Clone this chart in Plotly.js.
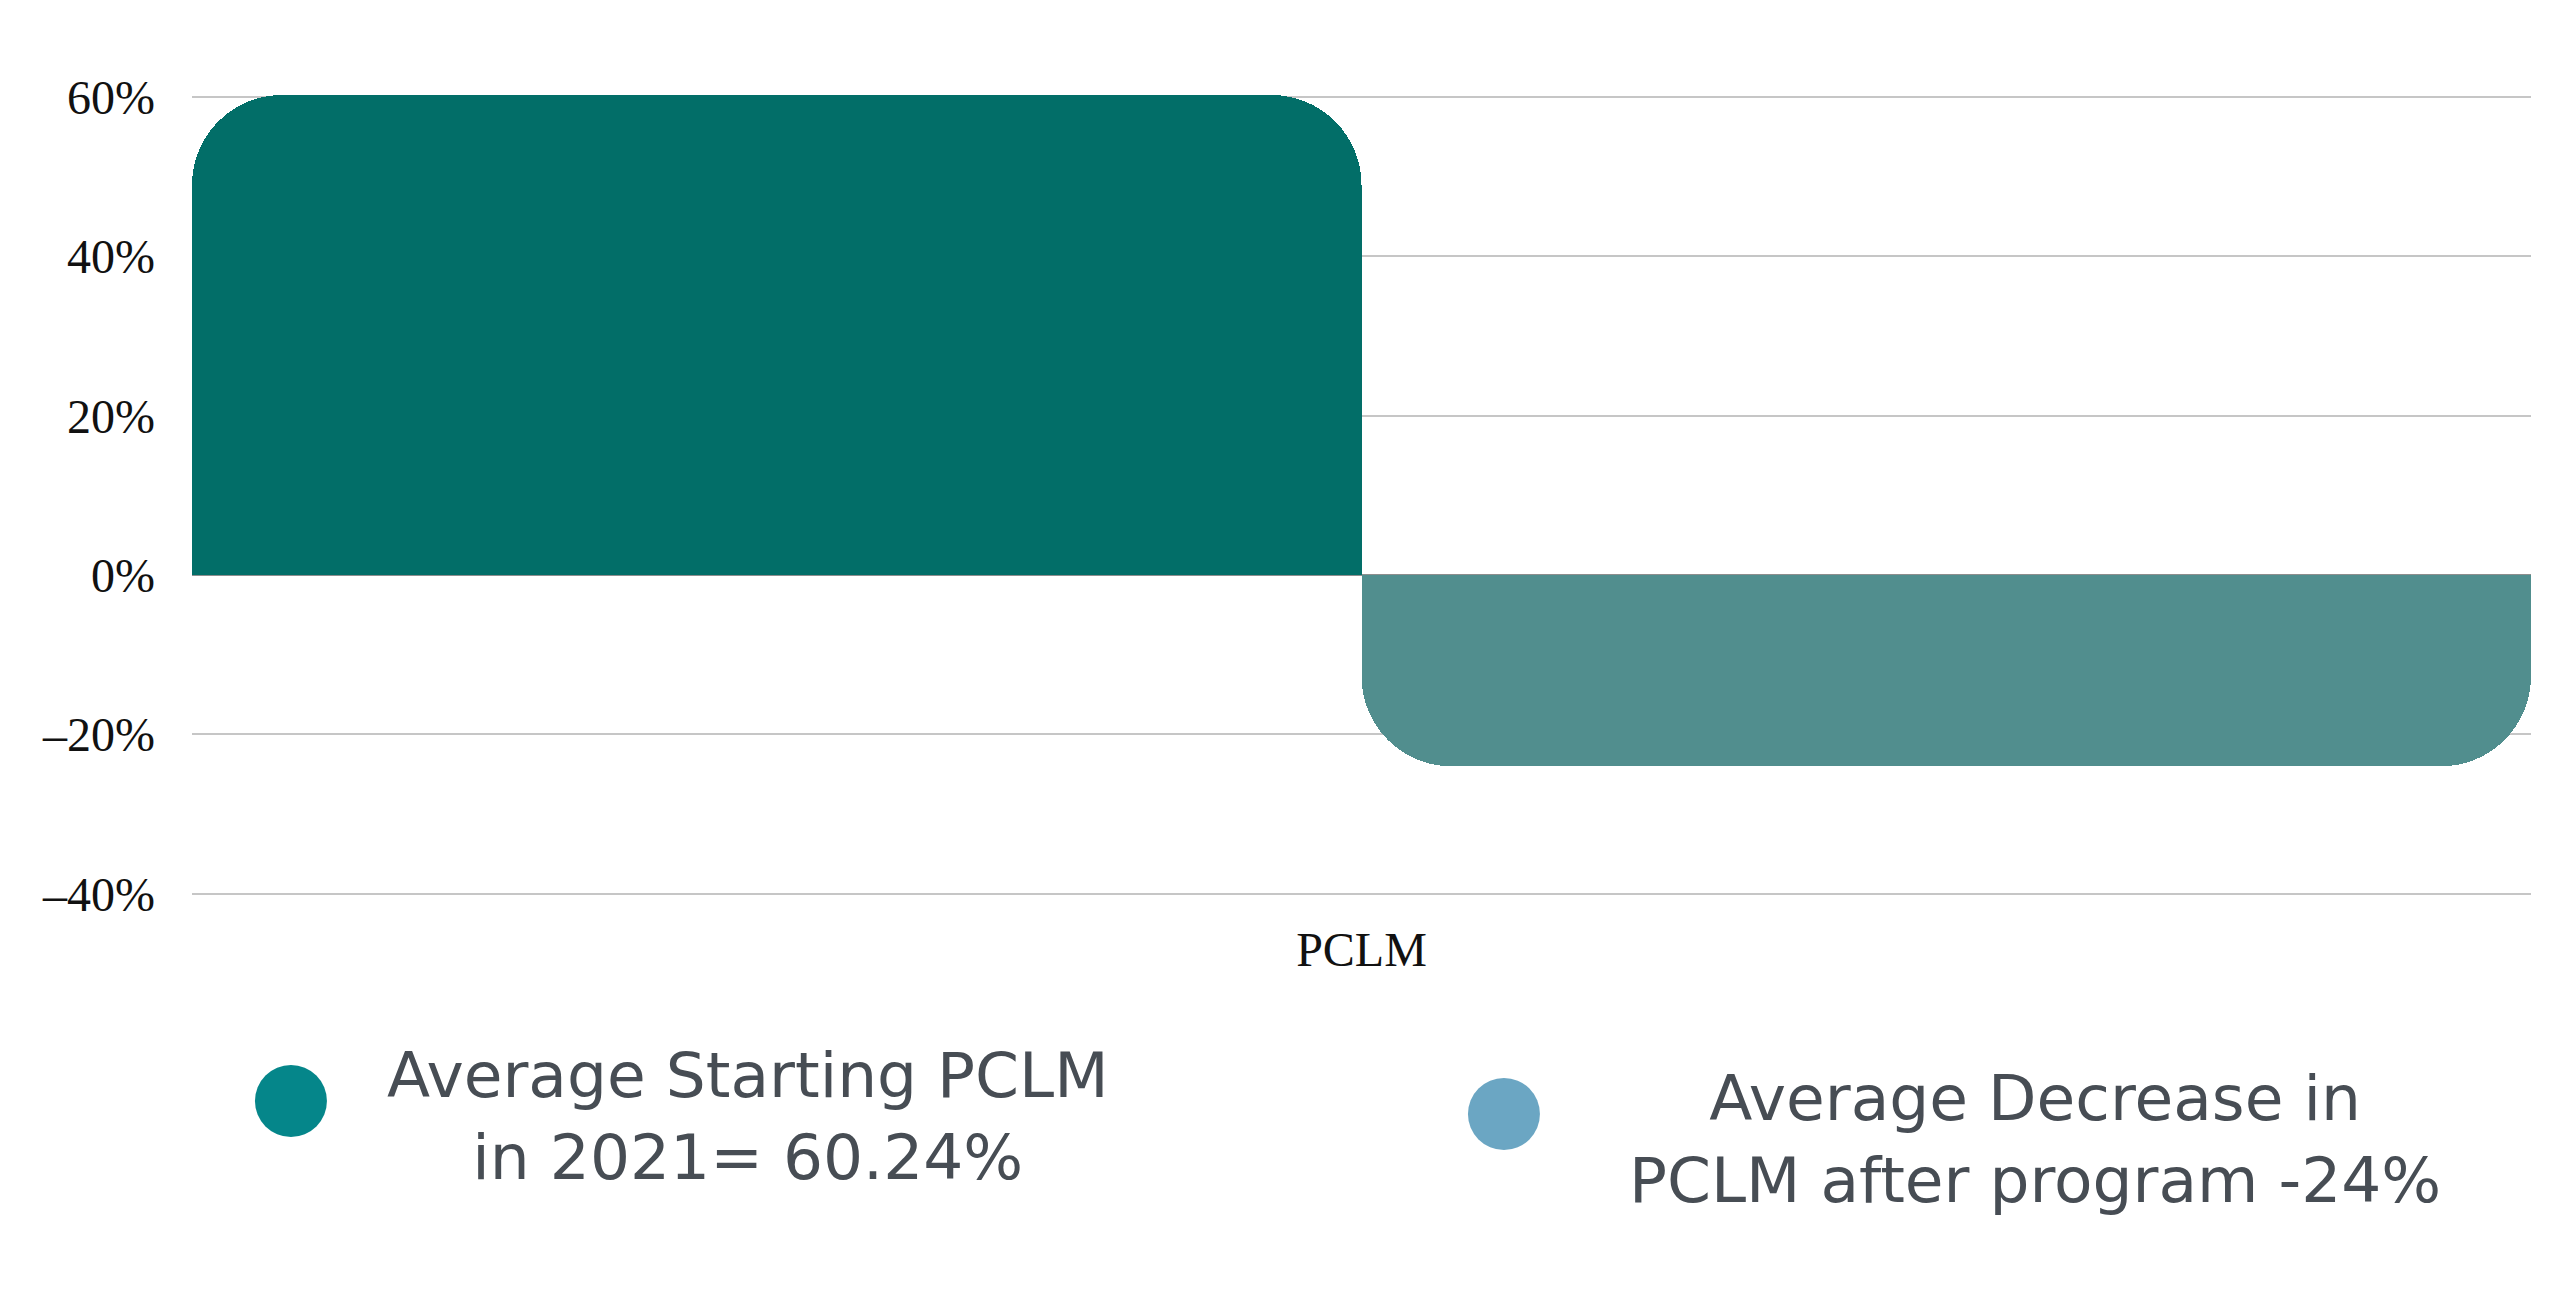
<!DOCTYPE html>
<html>
<head>
<meta charset="utf-8">
<script src="https://cdn.plot.ly/plotly-3.0.1.min.js"></script>
<style>
html,body{margin:0;padding:0;background:#fff;}
#chart{width:2560px;height:1296px;}
</style>
</head>
<body>
<div id="chart"></div>
<script>
const categories = ["PCLM"];
const seriesNames = ["Average Starting PCLM in 2021= 60.24%", "Average Decrease in PCLM after program -24%"];
const startingValues = [60.24];
const decreaseValues = [-24];
const tickValues = [-40, -20, 0, 20, 40, 60];
const tickLabels = ["\u201340%", "\u201320%", "0%", "20%", "40%", "60%"];
const legendLines = [
  ["Average Starting PCLM", "in 2021= 60.24%"],
  ["Average Decrease in", "PCLM after program -24%"]
];

const barColors = ["#026E68", "#518E8E"];
const legendColors = ["#05868A", "#6BA6C3"];

const traces = [
  {type: "bar", x: categories, y: startingValues, name: seriesNames[0],
   marker: {color: barColors[0], cornerradius: 90}, showlegend: false, hoverinfo: "none"},
  {type: "bar", x: categories, y: decreaseValues, name: seriesNames[1],
   marker: {color: barColors[1], cornerradius: 90}, showlegend: false, hoverinfo: "none"}
];

const serif = "Liberation Serif, Times New Roman, serif";
const sans = "DejaVu Sans, Noto Sans, sans-serif";
const textColor = "#474D54";

// legend positions (paper coords)
const legendItems = [
  {cx: 0.0423, cy: -0.2500, tx: 0.2377, ty: -0.2696},
  {cx: 0.5609, cy: -0.2659, tx: 0.788, ty: -0.2966}
];

const annotations = [];
const shapes = [];
legendItems.forEach((it, i) => {
  shapes.push({type: "circle", xref: "paper", yref: "paper",
    xsizemode: "pixel", ysizemode: "pixel", xanchor: it.cx, yanchor: it.cy,
    x0: -36, x1: 36, y0: -36, y1: 36,
    fillcolor: legendColors[i], line: {width: 0}});
  annotations.push({xref: "paper", yref: "paper", x: it.tx, y: it.ty,
    xanchor: "center", yanchor: "middle", align: "center", showarrow: false,
    text: legendLines[i].join("<br>"),
    font: {family: sans, size: 63, color: textColor}});
});

const layout = {
  width: 2560, height: 1296,
  margin: {l: 192, r: 29, t: 81, b: 399},
  paper_bgcolor: "#ffffff", plot_bgcolor: "#ffffff",
  barmode: "group", bargap: 0, bargroupgap: 0,
  showlegend: false,
  xaxis: {type: "category", range: [-0.5, 0.5], showgrid: false, zeroline: false,
    showline: false, ticks: "", ticklabelstandoff: 20,
    tickfont: {family: serif, size: 48, color: "#111111"}},
  yaxis: {range: [-40.4, 62], tickmode: "array", tickvals: tickValues, ticktext: tickLabels,
    showgrid: true, gridcolor: "#C6C6C6", gridwidth: 2,
    zeroline: true, zerolinecolor: "#8E8E8E", zerolinewidth: 2,
    showline: false, ticks: "", ticklabelstandoff: 36,
    tickfont: {family: serif, size: 48, color: "#111111"}},
  annotations: annotations,
  shapes: shapes
};

Plotly.newPlot("chart", traces, layout, {displayModeBar: false, staticPlot: true});
</script>
</body>
</html>
